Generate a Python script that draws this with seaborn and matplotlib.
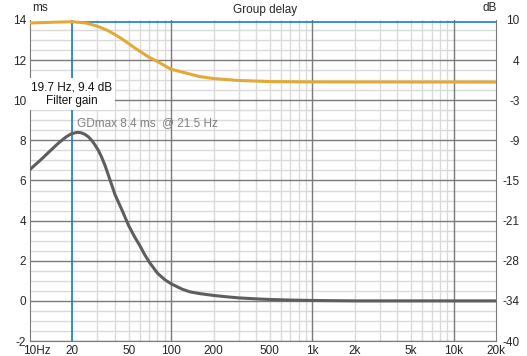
import numpy as np
import pandas as pd
import matplotlib
matplotlib.use('Agg')
import matplotlib.pyplot as plt
import seaborn as sns
from matplotlib.transforms import ScaledTranslation

# Group delay curve (ms)
gd_freq = [10, 12, 14, 16, 18, 19.5, 21.5, 23, 24.5, 26, 27.5, 29, 30.5, 32, 34, 37, 40, 45, 50,
           55, 60, 65, 70, 80, 90, 100, 120, 136, 160, 200, 250, 300, 400, 500, 700, 1000, 2000,
           20000]
gd_ms = [6.55, 7.05, 7.5, 7.88, 8.17, 8.32, 8.4, 8.38, 8.3, 8.17, 7.98, 7.75, 7.5, 7.2, 6.75,
         6.0, 5.3, 4.5, 3.75, 3.2, 2.75, 2.3, 1.93, 1.38, 1.06, 0.85, 0.58, 0.45, 0.36, 0.27, 0.2,
         0.15, 0.1, 0.07, 0.04, 0.02, 0.0, 0.0]

# Filter gain curve (dB)
fg_freq = [10, 15, 20, 25, 30, 35, 40, 45, 50, 55, 60, 70, 80, 90, 100, 130, 160, 200, 300, 500,
           1000, 20000]
fg_db = [9.2, 9.33, 9.4, 9.2, 8.7, 8.1, 7.4, 6.7, 6.0, 5.35, 4.8, 3.85, 3.2, 2.55, 2.0, 1.35,
         0.85, 0.55, 0.25, 0.08, 0.02, 0.0]

cursor_freq = 19.7
cursor_db = 9.4
gd_peak_freq = 21.5

x_ticks = [10, 20, 50, 100, 200, 500, 1000, 2000, 5000, 10000, 20000]
x_labels = ['10Hz', '20', '50', '100', '200', '500', '1k', '2k', '5k', '10k', '20k']
ms_ticks = [14, 12, 10, 8, 6, 4, 2, 0, -2]
db_labels = ['10', '4', '-3', '-9', '-15', '-21', '-28', '-34', '-40']

sns.set_style('white')
plt.rcParams['font.family'] = ['Liberation Sans', 'DejaVu Sans']
plt.rcParams['font.size'] = 8
plt.rcParams['axes.unicode_minus'] = False

fig = plt.figure(figsize=(5.27, 3.56), dpi=100)
ax = fig.add_axes([30 / 527, 1 - 341 / 356, 466 / 527, 321 / 356])
ax.set_xscale('log')
ax.set_xlim(10, 20000)
ax.set_ylim(-2, 14)

# grid
minor_x = [m * d for d in [10, 100, 1000, 10000] for m in range(2, 10) if m * d < 20000]
for f in minor_x:
    ax.axvline(f, color='#dadada', lw=1, zorder=0)
for f in [100, 1000, 10000]:
    ax.axvline(f, color='#7a7a7a', lw=1, zorder=0.5)
for v in np.arange(-2, 13.9, 0.5):
    if v % 2 == 0:
        ax.axhline(v, color='#7a7a7a', lw=1, zorder=0.5)
    else:
        ax.axhline(v, color='#dadada', lw=1, zorder=0)

for side in ['left', 'right', 'bottom']:
    ax.spines[side].set_color('#7a7a7a')
ax.spines['top'].set_visible(False)

ax.set_xticks(x_ticks)
ax.set_xticklabels(x_labels)
ax.xaxis.set_minor_locator(matplotlib.ticker.NullLocator())
ax.set_yticks(ms_ticks)
ax.tick_params(axis='both', length=0, pad=3, labelsize=8.5)
lbl = ax.get_xticklabels()[0]
lbl.set_transform(lbl.get_transform() + ScaledTranslation(7 / 100, 0, fig.dpi_scale_trans))

ax2 = ax.twinx()
ax2.set_ylim(-40.33, 9.67)
ax2.set_yticks(np.linspace(9.67, -40.33, 9))
ax2.set_yticklabels(db_labels)
ax2.tick_params(axis='y', length=0, pad=17, labelsize=8.5)
for t in ax2.get_yticklabels():
    t.set_horizontalalignment('right')
for s in ax2.spines.values():
    s.set_visible(False)

# cursor
ax.axvline(cursor_freq, color='#1c78d0', lw=1.2, zorder=2)
ax2.plot([cursor_freq, 20000], [cursor_db, cursor_db], color='#1c78d0', lw=1.2, zorder=2)

sns.lineplot(x=fg_freq, y=fg_db, ax=ax2, color='#e2aa35', lw=2.2, zorder=3)
sns.lineplot(x=gd_freq, y=gd_ms, ax=ax, color='#5e5e5e', lw=2.2, zorder=3)

ax.text(cursor_freq, 10.3, '19.7 Hz, 9.4 dB\nFilter gain', ha='center', va='center',
        fontsize=8.5, color='#111111', linespacing=1.25, zorder=5,
        bbox=dict(boxstyle='square,pad=0.25', fc='white', ec='none'))
ax.text(gd_peak_freq, 8.85, 'GDmax 8.4 ms  @ 21.5 Hz', ha='left', va='center',
        fontsize=8.5, color='#808080', zorder=5)

fig.text(265 / 527, 1 - 10 / 356, 'Group delay', ha='center', va='center', fontsize=8.5)
fig.text(32 / 527, 1 - 8 / 356, 'ms', ha='left', va='center', fontsize=8.5)
fig.text(497 / 527, 1 - 8 / 356, 'dB', ha='right', va='center', fontsize=8.5)

fig.savefig('out.png', dpi=100)
